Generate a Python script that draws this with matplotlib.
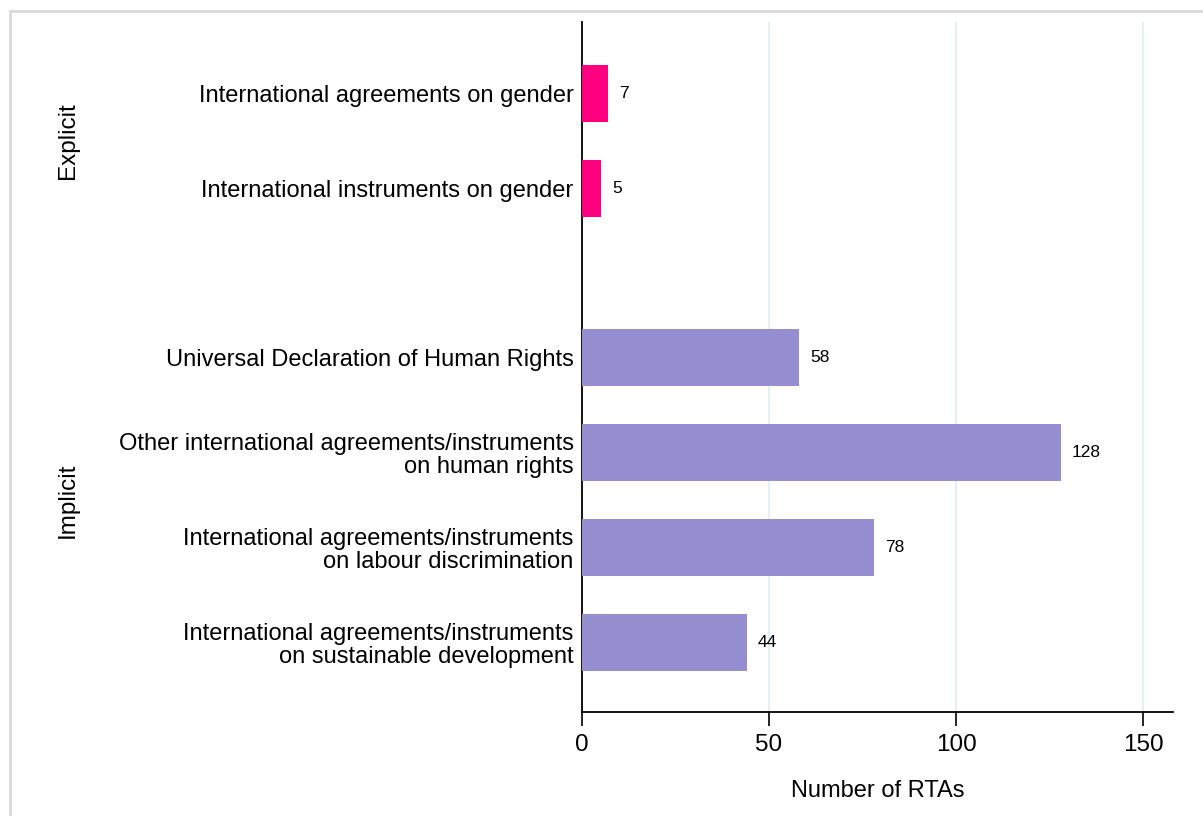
import matplotlib.pyplot as plt
from matplotlib.patches import Rectangle

plt.rcParams["font.family"] = ["Liberation Sans", "DejaVu Sans"]

# data
groups = ["Explicit", "Implicit"]
explicit_labels = ["International agreements on gender",
                   "International instruments on gender"]
explicit_values = [7, 5]
implicit_labels = ["Universal Declaration of Human Rights",
                   "Other international agreements/instruments\non human rights",
                   "International agreements/instruments\non labour discrimination",
                   "International agreements/instruments\non sustainable development"]
implicit_values = [58, 128, 78, 44]
x_ticks = [0, 50, 100, 150]

pink = "#ff0080"
purple = "#958fd2"
gap = 0.78

fig = plt.figure(figsize=(12.03, 8.16), dpi=100)
ax = fig.add_axes([582 / 1203, 1 - 712 / 816, (1173 - 582) / 1203, (712 - 22) / 816])

# positions: one slot per bar, extra gap between groups
pos_exp = list(range(len(explicit_values)))
pos_imp = [len(explicit_values) + gap + i for i in range(len(implicit_values))]

ax.barh(pos_exp, explicit_values, height=0.6, color=pink, zorder=3)
ax.barh(pos_imp, implicit_values, height=0.6, color=purple, zorder=3)

for p, v in zip(pos_exp + pos_imp, explicit_values + implicit_values):
    ax.annotate(str(v), (v, p), xytext=(8, 0), textcoords="offset points",
                va="center", ha="left", fontsize=12.5)

ax.set_yticks(pos_exp + pos_imp)
ax.set_yticklabels(explicit_labels + implicit_labels, fontsize=17, linespacing=1.05)
ax.tick_params(axis="y", length=0, pad=6)
ax.set_xticks(x_ticks)
ax.tick_params(axis="x", length=10, width=1.2, labelsize=17.5, pad=6)

ax.set_xlim(0, 158)
ax.set_ylim(6.51, -0.75)
ax.set_xlabel("Number of RTAs", fontsize=17, labelpad=17)

for s in ["top", "right"]:
    ax.spines[s].set_visible(False)
for s in ["left", "bottom"]:
    ax.spines[s].set_linewidth(1.3)

for t in x_ticks[1:]:
    ax.axvline(t, color="#e6f0f2", linewidth=1.5, zorder=1)

# group labels
ax.text(-0.87, sum(pos_exp) / len(pos_exp), groups[0], rotation=90, fontsize=17.5,
        ha="center", va="center", transform=ax.get_yaxis_transform())
ax.text(-0.87, sum(pos_imp) / len(pos_imp), groups[1], rotation=90, fontsize=17.5,
        ha="center", va="center", transform=ax.get_yaxis_transform())

# light frame around the figure
fig.patches.append(Rectangle((9.5 / 1203, -0.2), 1.2, 1.2 - 10.5 / 816,
                             transform=fig.transFigure, fill=False,
                             edgecolor="#d9d9d9", linewidth=2))

fig.savefig("out.png", dpi=100)
